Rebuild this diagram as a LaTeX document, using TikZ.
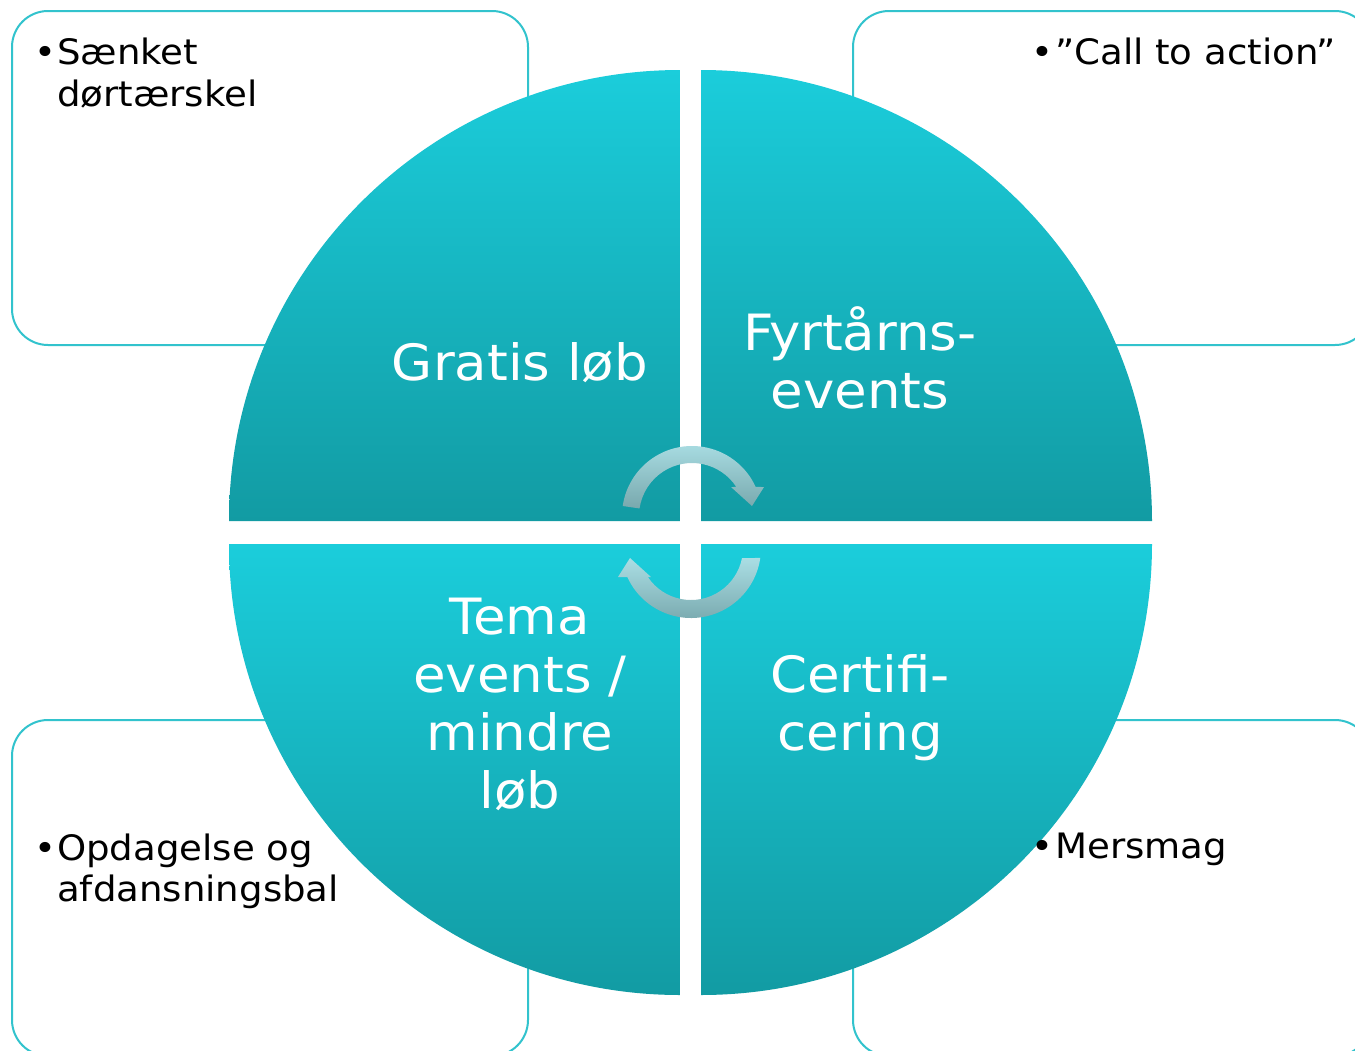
\documentclass[tikz,border=0pt]{standalone}
\usepackage{fontspec}
\setmainfont[FakeStretch=1.06]{DejaVu Sans}
\definecolor{qlight}{RGB}{27,205,219}
\definecolor{qdark}{RGB}{18,155,163}
\definecolor{boxline}{RGB}{50,195,205}
\definecolor{arrlight}{RGB}{170,222,228}
\definecolor{arrdark}{RGB}{120,168,173}
\begin{document}
\begin{tikzpicture}[x=1pt,y=-1pt,
  quad/.style={top color=qlight, bottom color=qdark, draw=none},
  infobox/.style={draw=boxline, line width=2pt, fill=white, rounded corners=36pt},
  arrowfill/.style={top color=arrlight, bottom color=arrdark, draw=none},
  qtext/.style={text=white, inner sep=0pt, anchor=base, font=\fontsize{50}{58}\selectfont},
  btext/.style={text=black, inner sep=0pt, anchor=base west, font=\fontsize{35}{42}\selectfont}]
\useasboundingbox (0,0) rectangle (1355,1050);
\clip (0,0) rectangle (1355,1050);
\fill[white] (0,0) rectangle (1355,1050);
% side boxes
\draw[infobox] (12,11) rectangle (528,345);
\draw[infobox] (853,11) rectangle (1371,345);
\draw[infobox] (12,720) rectangle (528,1056);
\draw[infobox] (853,720) rectangle (1371,1056);
% quadrants
\path[quad] (680,521) -- (229,521) arc[start angle=180, end angle=270, radius=451] -- cycle;
\path[quad] (701,521) -- (701,70) arc[start angle=270, end angle=360, radius=451] -- cycle;
\path[quad] (680,544) -- (680,995) arc[start angle=90, end angle=180, radius=451] -- cycle;
\path[quad] (701,544) -- (1152,544) arc[start angle=0, end angle=90, radius=451] -- cycle;
% circular arrows
\path[arrowfill] ([shift={(188.2:70)}]692,516) arc[start angle=188.2, end angle=335.5, radius=70]
  -- (764,487) -- (752,506) -- (731,487)
  -- ([shift={(326.8:53)}]692,516) arc[start angle=326.8, end angle=188.2, radius=53] -- cycle;
\path[arrowfill] ([shift={(8.2:70)}]691,548) arc[start angle=8.2, end angle=155.5, radius=70]
  -- (618,577) -- (630,558) -- (651,577)
  -- ([shift={(146.1:52)}]691,548) arc[start angle=146.1, end angle=11.1, radius=52] -- cycle;
% quadrant labels
\node[qtext] (gratis) at (520,380) {Gratis løb};
\node[qtext] (fyr1) at (860,350) {Fyrtårns-};
\node[qtext] (fyr2) at (860,408) {events};
\node[qtext] (tema1) at (520,634) {Tema};
\node[qtext] (tema2) at (520,692) {events /};
\node[qtext] (tema3) at (520,750) {mindre};
\node[qtext] (tema4) at (520,808) {løb};
\node[qtext] (cert1) at (860,692) {Certifi-};
\node[qtext] (cert2) at (860,750) {cering};
% bullet texts
\node[btext] (b1) at (34,64) {•};
\node[btext] (t1a) at (57,64) {Sænket};
\node[btext] (t1b) at (57,106) {dørtærskel};
\node[btext] (b2) at (1031,64) {•};
\node[btext] (t2a) at (1055,64) {”Call to action”};
\node[btext] (b3) at (34,860) {•};
\node[btext] (t3a) at (57,860) {Opdagelse og};
\node[btext] (t3b) at (57,901) {afdansningsbal};
\node[btext] (b4) at (1031,858) {•};
\node[btext] (t4a) at (1055,858) {Mersmag};
\end{tikzpicture}
\end{document}
